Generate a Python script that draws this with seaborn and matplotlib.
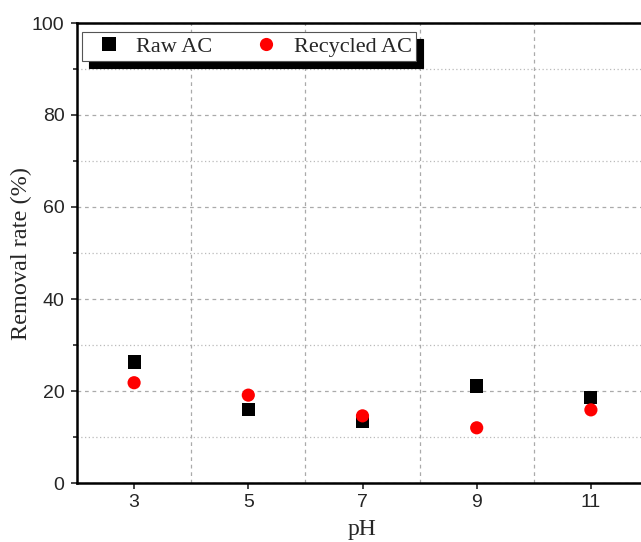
import numpy as np
import pandas as pd
import matplotlib
matplotlib.use("Agg")
import matplotlib.pyplot as plt
import seaborn as sns
from matplotlib.ticker import FixedLocator, MultipleLocator

ph = [3, 5, 7, 9, 11]
raw_ac = [26.3, 15.9, 13.3, 21.1, 18.5]
recycled_ac = [21.8, 19.1, 14.6, 12.0, 15.9]
series_names = ["Raw AC", "Recycled AC"]

df = pd.DataFrame({
    "pH": ph * 2,
    "rate": raw_ac + recycled_ac,
    "series": [series_names[0]] * len(ph) + [series_names[1]] * len(ph),
})

sns.set_style("ticks")
fig = plt.figure(figsize=(6.41, 5.42), dpi=100)
ax = fig.add_axes([77 / 641, 1 - 483 / 542, 571 / 641, 460 / 542])

sns.scatterplot(data=df, x="pH", y="rate", hue="series", style="series",
                palette={"Raw AC": "black", "Recycled AC": "red"},
                markers={"Raw AC": "s", "Recycled AC": "o"},
                s=90, linewidth=0, ax=ax, zorder=3)

ax.set_xlim(2, 12)
ax.set_ylim(0, 100)
ax.xaxis.set_major_locator(FixedLocator(ph))
ax.xaxis.set_minor_locator(FixedLocator([4, 6, 8, 10]))
ax.yaxis.set_major_locator(MultipleLocator(20))
ax.yaxis.set_minor_locator(MultipleLocator(10))

ax.grid(False)
ax.xaxis.grid(True, which="minor", color="#aaaaaa", linestyle=(0, (3, 3)), linewidth=0.9)
ax.yaxis.grid(True, which="major", color="#aaaaaa", linestyle=(0, (3, 3)), linewidth=0.9)
ax.yaxis.grid(True, which="minor", color="#bbbbbb", linestyle=(0, (1, 2)), linewidth=0.9)

ax.tick_params(axis="x", which="major", direction="out", length=4, width=1.2,
               labelsize=14, pad=4)
ax.tick_params(axis="x", which="minor", length=0)
ax.tick_params(axis="y", which="major", direction="out", length=4, width=1.2,
               labelsize=14, pad=5)
ax.tick_params(axis="y", which="minor", direction="out", length=3, width=1.2)
for lab in ax.get_xticklabels() + ax.get_yticklabels():
    lab.set_fontfamily("Liberation Sans")

for sp in ax.spines.values():
    sp.set_linewidth(1.8)
    sp.set_color("black")

ax.set_xlabel("pH", fontfamily="Liberation Serif", fontsize=17, labelpad=6)
ax.set_ylabel("Removal rate (%)", fontfamily="Liberation Serif", fontsize=17.5, labelpad=0)

handles, labels = ax.get_legend_handles_labels()
leg = ax.legend(handles, labels, loc="upper left",
                bbox_to_anchor=(5 / 571, 1 - 9 / 460), borderaxespad=0,
                ncol=2, frameon=True, fancybox=False, edgecolor="#555555",
                shadow={"ox": 5, "oy": -5, "color": "black", "alpha": 1},
                prop={"family": "Liberation Serif", "size": 16},
                handlelength=2.0, handletextpad=0.25, columnspacing=1.4,
                borderpad=0.2, markerscale=1.0, framealpha=1)
leg.get_frame().set_linewidth(0.8)

fig.savefig("out.png", dpi=100)
